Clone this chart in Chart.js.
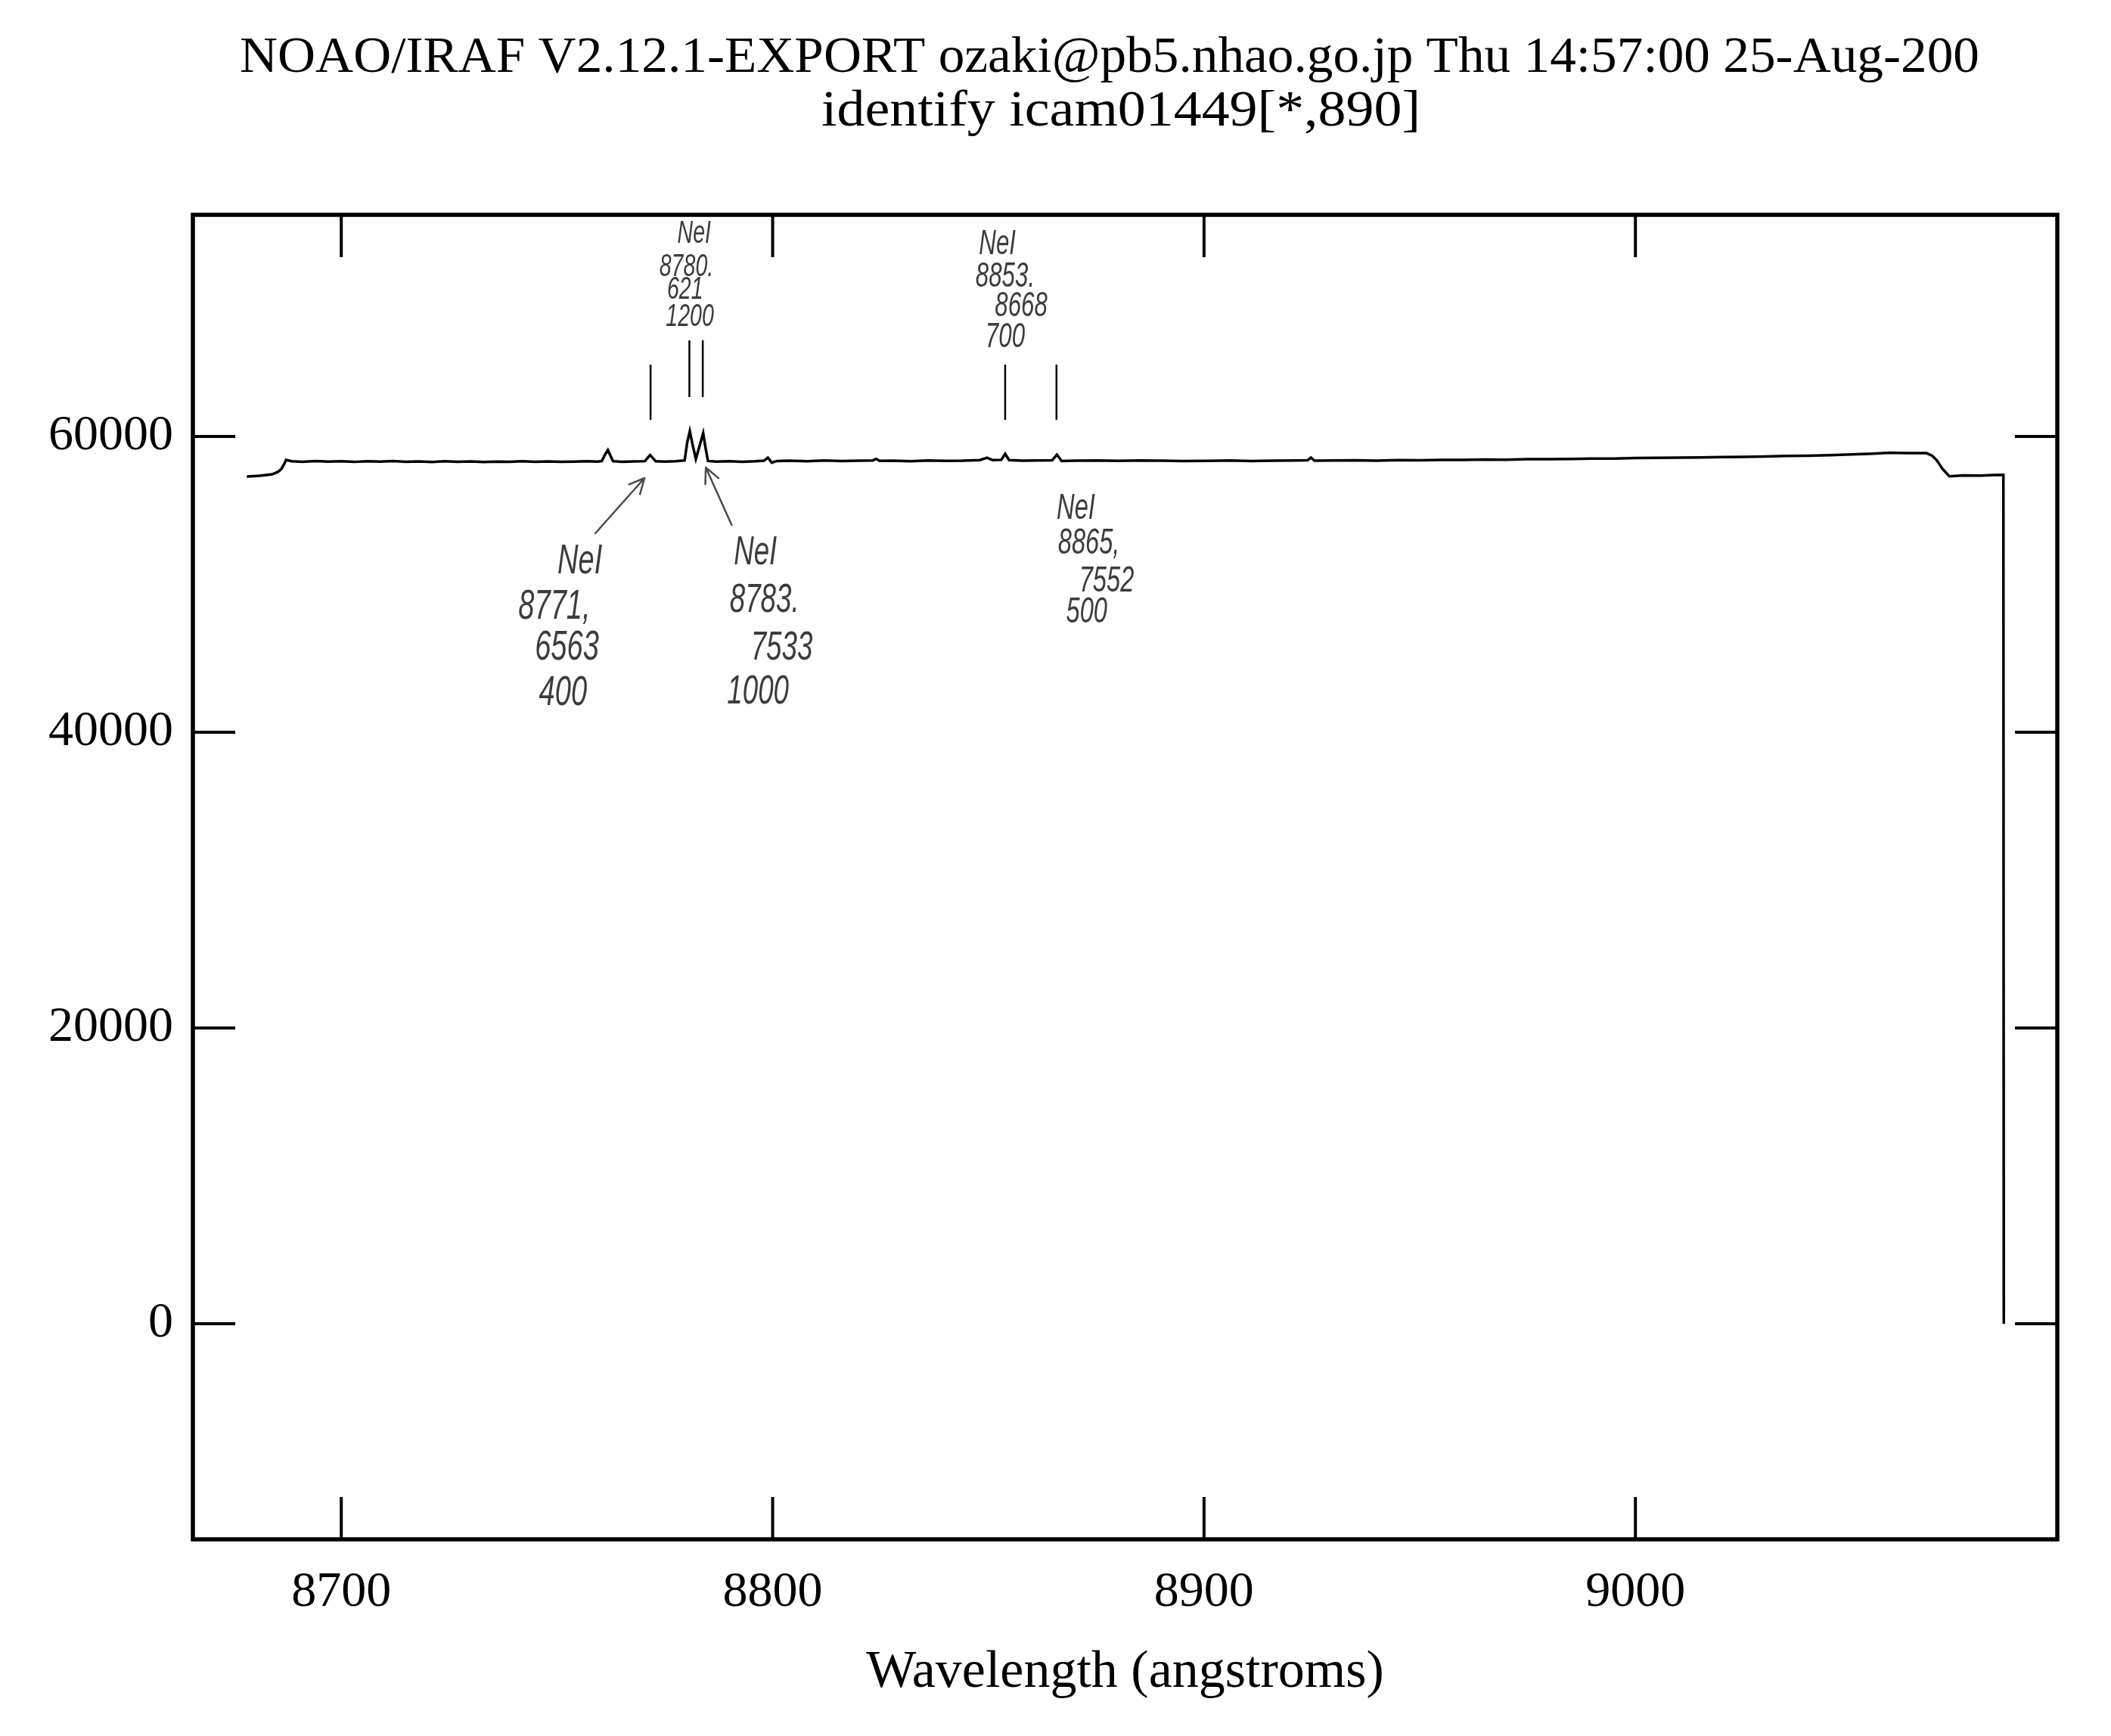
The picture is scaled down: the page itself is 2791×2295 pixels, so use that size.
<!DOCTYPE html>
<html lang="en">
<head>
  <meta charset="UTF-8">
  <title>identify icam01449[*,890]</title>
  <script src="https://cdn.jsdelivr.net/npm/chart.js"></script>
  <style>
    html, body { margin: 0; padding: 0; background: #fff; }
    canvas { display: block; }
  </style>
</head>
<body>
  <canvas id="spectrum" width="2791" height="2295"></canvas>

  <script>
    // Title lines from the IRAF plot header
    const titleLines = [
      'NOAO/IRAF V2.12.1-EXPORT ozaki@pb5.nhao.go.jp Thu 14:57:00 25-Aug-200',
      'identify icam01449[*,890]'
    ];

    // Spectrum: wavelength (angstroms) and counts
    const waves = [
      8678.1, 8681.0, 8684.0, 8685.3, 8686.1, 8686.8, 8687.2, 8688.5, 8691, 8694,
      8697, 8700, 8703, 8706, 8709, 8712, 8715, 8718, 8721, 8724,
      8727, 8730, 8733, 8736, 8739, 8742, 8745, 8748, 8751, 8754,
      8757, 8759.5, 8760.4, 8761.2, 8761.8, 8762.4, 8763.0, 8765, 8768, 8770.4,
      8771.0, 8771.6, 8772.2, 8772.9, 8775, 8777.5, 8779.6, 8780.2, 8780.8, 8781.4,
      8782.2, 8783.2, 8783.9, 8784.4, 8785.0, 8787, 8790, 8793, 8796, 8798.0,
      8798.9, 8799.8, 8801, 8804, 8808, 8812, 8816, 8820, 8823.2, 8824.0,
      8824.8, 8828, 8832, 8836, 8840, 8844, 8848, 8849.7, 8851, 8853.0,
      8853.9, 8854.8, 8858, 8861, 8864.8, 8865.9, 8867.0, 8870, 8875, 8880,
      8885, 8890, 8895, 8901, 8906, 8911, 8916, 8921, 8924.0, 8924.8,
      8925.6, 8930, 8935, 8940, 8945, 8950, 8955, 8960, 8965, 8970,
      8975, 8980, 8985, 8990, 8995, 9000, 9005, 9010, 9015, 9020,
      9025, 9030, 9035, 9040, 9045, 9050, 9055, 9059, 9063, 9067.5,
      9068.8, 9069.8, 9071.2, 9072.8, 9076, 9080, 9083, 9085.3, 9085.4
    ];
    const flux = [
      57290, 57340, 57440, 57600, 57800, 58150, 58410, 58330, 58290, 58340,
      58300, 58320, 58280, 58330, 58300, 58340, 58290, 58310, 58270, 58320,
      58290, 58310, 58270, 58300, 58280, 58320, 58290, 58310, 58280, 58300,
      58320, 58300, 58340, 58800, 59080, 58700, 58330, 58290, 58310, 58330,
      58550, 58740, 58550, 58320, 58300, 58320, 58380, 59600, 60360, 59500,
      58480, 59500, 60220, 59300, 58340, 58300, 58330, 58290, 58320, 58360,
      58570, 58230, 58340, 58360, 58330, 58370, 58340, 58360, 58380, 58480,
      58350, 58360, 58330, 58370, 58350, 58360, 58400, 58560, 58400, 58420,
      58820, 58400, 58360, 58380, 58390, 58770, 58340, 58360, 58380, 58350,
      58380, 58360, 58340, 58350, 58370, 58340, 58360, 58370, 58390, 58570,
      58360, 58370, 58390, 58360, 58400, 58390, 58420, 58410, 58440, 58430,
      58460, 58470, 58480, 58510, 58500, 58540, 58550, 58570, 58580, 58600,
      58620, 58650, 58680, 58700, 58740, 58780, 58840, 58900, 58880, 58870,
      58700, 58410, 57800, 57300, 57370, 57350, 57390, 57400, 0
    ];

    // Identified line marks drawn above the spectrum
    const markWaves = [8771.7, 8780.7, 8783.8, 8853.9, 8865.8];
    const markLow   = [61125, 62660, 62660, 61125, 61125];
    const markHigh  = [64860, 66500, 66500, 64860, 64860];

    // Axis ticks
    const xTicks = [8700, 8800, 8900, 9000];
    const yTicks = [0, 20000, 40000, 60000];

    // Pencil notes written on the printout (anchored in data units)
    const notes = [
      { lines: ['NeI', '8780.', '621', '1200'],   wave: [8781.8, 8780.0, 8779.7, 8780.8], val: [73708, 71432, 69898, 68056], size: 42 },
      { lines: ['NeI', '8853.', '8668', '700'],   wave: [8852.1, 8853.9, 8857.6, 8853.9], val: [72967, 70793, 68798, 66675], size: 46 },
      { lines: ['NeI', '8771,', '6563', '400'],   wave: [8755.3, 8749.4, 8752.3, 8751.4], val: [51535, 48465, 45729, 42634], size: 56 },
      { lines: ['NeI', '8783.', '7533', '1000'],  wave: [8796.0, 8798.1, 8802.1, 8796.6], val: [52148, 48900, 45703, 42737], size: 54 },
      { lines: ['NeI', '8865,', '7552', '500'],   wave: [8870.3, 8873.3, 8877.4, 8872.8], val: [55115, 52737, 50179, 48082], size: 48 }
    ];
    const arrows = [
      { from: [8758.9, 53453], to: [8770.3, 57187] },
      { from: [8790.5, 54015], to: [8784.5, 57903] }
    ];

    const serif = '"Liberation Serif", "Times New Roman", serif';

    // build {x,y} points
    const specPoints = waves.map((w, i) => ({ x: w, y: flux[i] }));
    const markPoints = [];
    markWaves.forEach((w, i) => {
      markPoints.push({ x: w, y: markLow[i] }, { x: w, y: markHigh[i] }, { x: w, y: null });
    });

    const framePlugin = {
      id: 'frame',
      afterDraw(chart) {
        const { ctx, chartArea: a, scales: { x, y } } = chart;
        ctx.save();
        ctx.strokeStyle = '#000';
        ctx.lineCap = 'butt';

        // box
        ctx.lineWidth = 5.5;
        ctx.strokeRect(a.left, a.top, a.right - a.left, a.bottom - a.top);

        // inward ticks on all four sides
        const len = 56;
        ctx.lineWidth = 4;
        x.ticks.forEach(t => {
          const px = x.getPixelForValue(t.value);
          ctx.beginPath();
          ctx.moveTo(px, a.top); ctx.lineTo(px, a.top + len);
          ctx.moveTo(px, a.bottom); ctx.lineTo(px, a.bottom - len);
          ctx.stroke();
        });
        y.ticks.forEach(t => {
          const py = y.getPixelForValue(t.value);
          ctx.beginPath();
          ctx.moveTo(a.left, py); ctx.lineTo(a.left + len, py);
          ctx.moveTo(a.right, py); ctx.lineTo(a.right - len, py);
          ctx.stroke();
        });

        // header lines, squeezed to the printed widths
        ctx.fillStyle = '#000';
        ctx.textAlign = 'center';
        ctx.textBaseline = 'middle';
        ctx.font = '68px ' + serif;
        const targets = [{ w: 2300, cx: 1467, cy: 77 }, { w: 792, cx: 1482, cy: 148 }];
        titleLines.forEach((line, i) => {
          const m = ctx.measureText(line).width;
          ctx.save();
          ctx.translate(targets[i].cx, targets[i].cy);
          ctx.scale(targets[i].w / m, 1);
          ctx.fillText(line, 0, 0);
          ctx.restore();
        });

        // pencil notes
        ctx.fillStyle = '#3c3c3c';
        notes.forEach(n => {
          ctx.font = 'italic ' + n.size + 'px "Liberation Sans", sans-serif';
          n.lines.forEach((txt, i) => {
            const px = x.getPixelForValue(n.wave[i]);
            const py = y.getPixelForValue(n.val[i]);
            ctx.save();
            ctx.translate(px, py);
            ctx.scale(0.68, 1);
            ctx.fillText(txt, 0, 0);
            ctx.restore();
          });
        });

        ctx.strokeStyle = '#4a4a4a';
        ctx.lineWidth = 2.5;
        ctx.lineCap = 'round';
        arrows.forEach(ar => {
          const x0 = x.getPixelForValue(ar.from[0]), y0 = y.getPixelForValue(ar.from[1]);
          const x1 = x.getPixelForValue(ar.to[0]), y1 = y.getPixelForValue(ar.to[1]);
          const ang = Math.atan2(y1 - y0, x1 - x0);
          const h = 22;
          ctx.beginPath();
          ctx.moveTo(x0, y0); ctx.lineTo(x1, y1);
          ctx.moveTo(x1, y1); ctx.lineTo(x1 - h * Math.cos(ang - 0.45), y1 - h * Math.sin(ang - 0.45));
          ctx.moveTo(x1, y1); ctx.lineTo(x1 - h * Math.cos(ang + 0.45), y1 - h * Math.sin(ang + 0.45));
          ctx.stroke();
        });
        ctx.restore();
      }
    };

    new Chart(document.getElementById('spectrum'), {
      type: 'line',
      data: {
        datasets: [
          {
            label: 'icam01449[*,890]',
            data: specPoints,
            borderColor: '#000',
            borderWidth: 3.5,
            pointRadius: 0,
            tension: 0,
            fill: false
          },
          {
            label: 'marks',
            data: markPoints,
            borderColor: '#000',
            borderWidth: 2.5,
            pointRadius: 0,
            spanGaps: false,
            fill: false
          }
        ]
      },
      options: {
        responsive: false,
        devicePixelRatio: 1,
        animation: false,
        layout: { padding: { top: 284, right: 71, left: 0, bottom: 0 } },
        plugins: {
          legend: { display: false },
          title: { display: false },
          tooltip: { enabled: false }
        },
        scales: {
          x: {
            type: 'linear',
            min: 8665.6,
            max: 9097.8,
            afterFit(scale) { scale.height = 260; },
            afterBuildTicks(scale) { scale.ticks = xTicks.map(v => ({ value: v })); },
            grid: { display: false, drawTicks: false, tickLength: 0 },
            border: { display: false },
            ticks: {
              color: '#000',
              font: { family: serif, size: 66 },
              padding: 31,
              maxRotation: 0,
              callback: v => String(v)
            },
            title: {
              display: true,
              text: 'Wavelength (angstroms)',
              color: '#000',
              font: { family: serif, size: 70 },
              padding: { top: 0, bottom: 41 }
            }
          },
          y: {
            type: 'linear',
            min: -14578,
            max: 74987,
            afterFit(scale) { scale.width = 255; },
            afterBuildTicks(scale) { scale.ticks = yTicks.map(v => ({ value: v })); },
            grid: { display: false, drawTicks: false, tickLength: 0 },
            border: { display: false },
            ticks: {
              color: '#000',
              font: { family: serif, size: 66 },
              padding: 26,
              callback: v => String(v)
            }
          }
        }
      },
      plugins: [framePlugin]
    });
  </script>
</body>
</html>
